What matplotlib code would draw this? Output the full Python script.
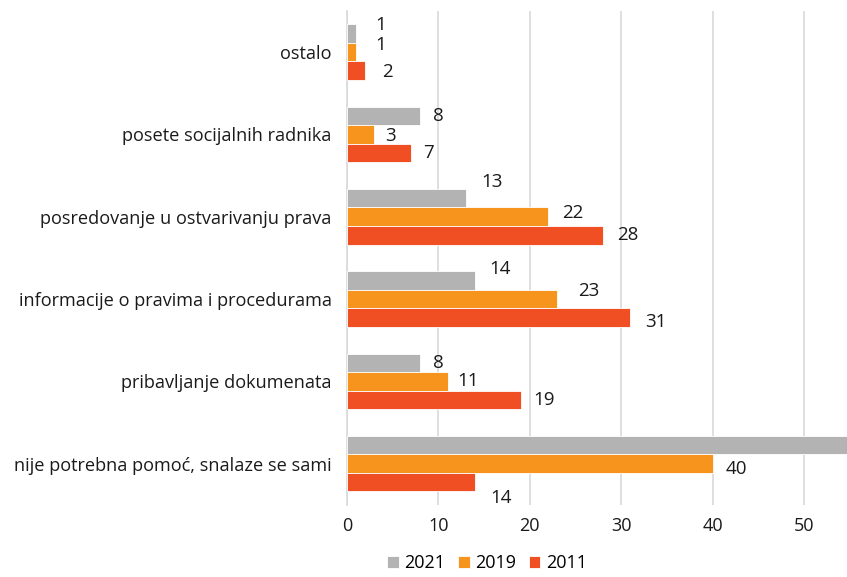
import matplotlib
matplotlib.use('Agg')
import matplotlib.pyplot as plt
import numpy as np

plt.rcParams['font.family'] = ['Open Sans', 'DejaVu Sans']

# categories, bottom to top
categories = ['nije potrebna pomoć, snalaze se sami', 'pribavljanje dokumenata',
              'informacije o pravima i procedurama', 'posredovanje u ostvarivanju prava',
              'posete socijalnih radnika', 'ostalo']
years = ['2021', '2019', '2011']
v2021 = [58, 8, 14, 13, 8, 1]
v2019 = [40, 11, 23, 22, 3, 1]
v2011 = [14, 19, 31, 28, 7, 2]

COLORS = {'2021': '#B3B3B3', '2019': '#F7941D', '2011': '#F04E23'}

# label offsets in points (dx, dy), same order as categories
label_off = {
    '2021': [(0, 0), (9, 0), (10, 8), (11, 12), (9, 0), (14, 6)],
    '2019': [(9, -4), (7, 0), (15, 6), (10, 3), (8, -1), (14, 5)],
    '2011': [(11, -11), (9, 0), (11, -3), (10, 0), (9, 0), (12, -1)],
}

XMAX = 54.7

fig = plt.figure(figsize=(8.47, 5.77), dpi=100)
ax = fig.add_axes([0.4097, 0.125, 0.5903, 0.856])

y = np.arange(len(categories))
h = 0.225
series = {'2021': v2021, '2019': v2019, '2011': v2011}
shift = {'2021': h, '2019': 0.0, '2011': -h}

for yr in years:
    vals = series[yr]
    ax.barh(y + shift[yr], vals, height=h, color=COLORS[yr], edgecolor='white',
            linewidth=0.6, label=yr, zorder=3)
    for i, v in enumerate(vals):
        if v > XMAX:
            continue  # label falls outside the chart
        dx, dy = label_off[yr][i]
        ax.annotate(str(v), xy=(v, y[i] + shift[yr]), xytext=(dx, dy),
                    textcoords='offset points', ha='left', va='center',
                    fontsize=13.5, color='#1a1a1a', annotation_clip=False)

ax.set_xlim(0, XMAX)
ax.set_ylim(-0.5, 5.5)
ax.set_xticks([0, 10, 20, 30, 40, 50])
ax.set_yticks(y)
ax.set_yticklabels(categories, fontsize=13.1, color='#1a1a1a')
ax.tick_params(axis='x', labelsize=13, colors='#1a1a1a', length=0, pad=9)
ax.tick_params(axis='y', length=0, pad=11)
ax.grid(axis='x', color='#D9D9D9', linewidth=1.2, zorder=0)
for s in ['top', 'right', 'bottom']:
    ax.spines[s].set_visible(False)
ax.spines['left'].set_color('#D9D9D9')
ax.spines['left'].set_linewidth(1.2)

handles, labels = ax.get_legend_handles_labels()
fig.legend(handles, labels, loc='center', bbox_to_anchor=(0.575, 0.024), ncol=3,
           frameon=False, fontsize=13, handlelength=0.65, handleheight=0.65,
           handletextpad=0.3, columnspacing=0.7, borderpad=0.1)

plt.savefig('out.png', dpi=100)
